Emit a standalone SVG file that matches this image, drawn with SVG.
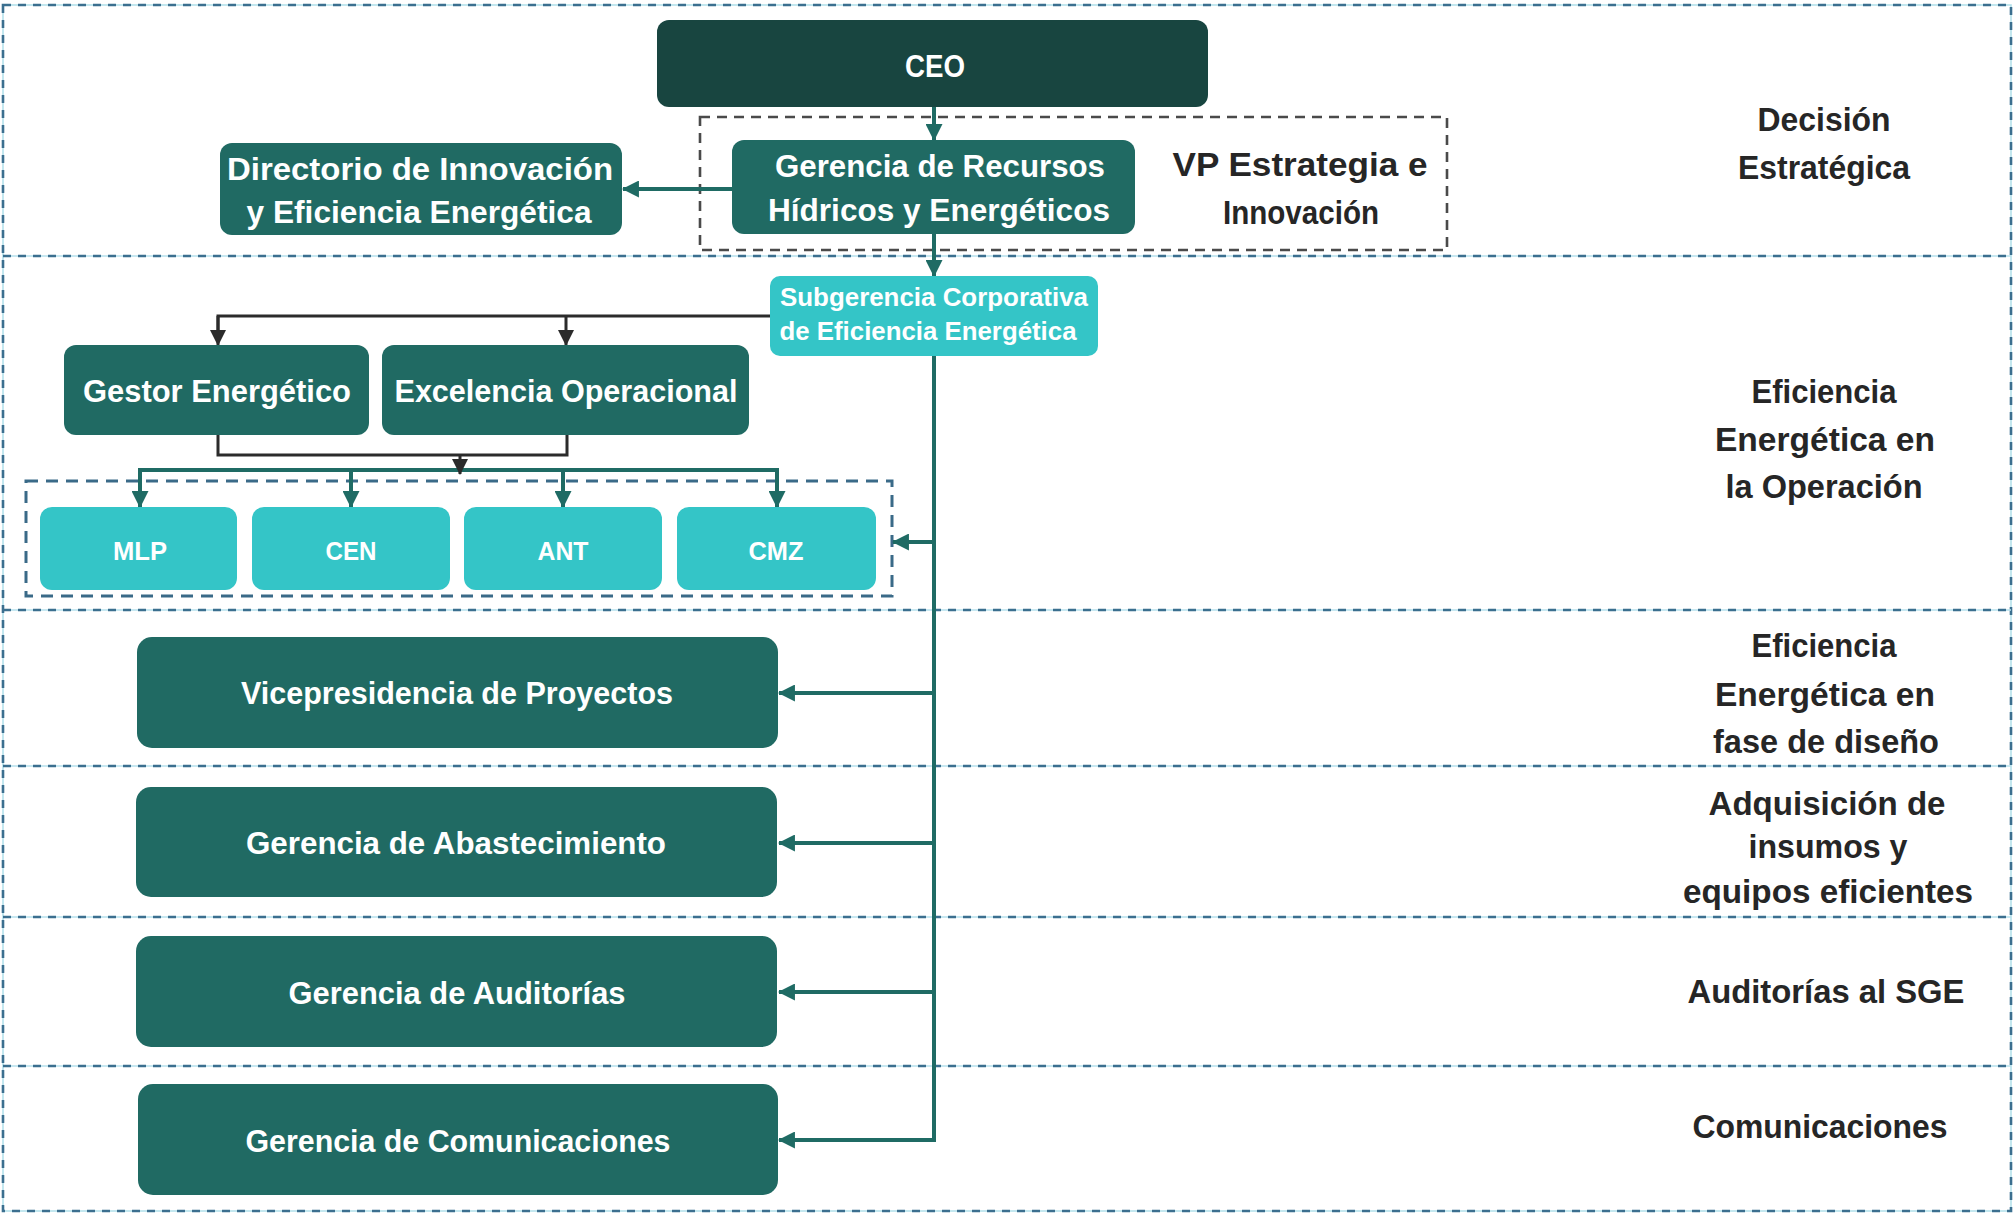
<svg xmlns="http://www.w3.org/2000/svg" width="2015" height="1215" viewBox="0 0 2015 1215">
  <defs>
    <marker id="arrowTeal" viewBox="0 0 16 16" refX="15" refY="8" markerWidth="17" markerHeight="17" markerUnits="userSpaceOnUse" orient="auto">
      <path d="M0,0 L16,8 L0,16 Z" fill="#1f6b64"/>
    </marker>
    <marker id="arrowDark" viewBox="0 0 16 16" refX="15" refY="8" markerWidth="16" markerHeight="16" markerUnits="userSpaceOnUse" orient="auto">
      <path d="M0,0 L16,8 L0,16 Z" fill="#2b2b2b"/>
    </marker>
    <style>
      .halo { fill: none; stroke: #b4e1ec; stroke-width: 1.6; }
      .band { fill: none; stroke: #3b6f8f; stroke-width: 2.6; stroke-dasharray: 8 7; }
      .vpbox { fill: none; stroke: #4a4a4a; stroke-width: 2.6; stroke-dasharray: 10 7; }
      .grpbox { fill: none; stroke: #3a6a88; stroke-width: 3; stroke-dasharray: 12 8; }
      .ceo { fill: #184540; }
      .dark { fill: #206a63; }
      .light { fill: #34c5c7; }
      .wt { fill: #ffffff; font-family: "Liberation Sans", Arial, sans-serif; font-weight: bold; text-anchor: middle; }
      .lbl { fill: #262626; font-family: "Liberation Sans", Arial, sans-serif; font-weight: bold; font-size: 33px; text-anchor: middle; }
      .tl { fill: none; stroke: #1f6b64; stroke-width: 4; }
      .dl { fill: none; stroke: #2b2b2b; stroke-width: 3; }
    </style>
  </defs>

  <rect width="2015" height="1215" fill="#ffffff"/>

  <!-- Section frame and dividers -->
  <g id="sections">
    <rect class="halo" x="3" y="5" width="2008" height="1206"/>
    <rect class="band" x="3" y="5" width="2008" height="1206"/>
    <g>
      <line class="halo" x1="3" y1="256" x2="2011" y2="256"/>
      <line class="halo" x1="3" y1="610" x2="2011" y2="610"/>
      <line class="halo" x1="3" y1="766" x2="2011" y2="766"/>
      <line class="halo" x1="3" y1="917" x2="2011" y2="917"/>
      <line class="halo" x1="3" y1="1066" x2="2011" y2="1066"/>
      <line class="band" x1="3" y1="256" x2="2011" y2="256"/>
      <line class="band" x1="3" y1="610" x2="2011" y2="610"/>
      <line class="band" x1="3" y1="766" x2="2011" y2="766"/>
      <line class="band" x1="3" y1="917" x2="2011" y2="917"/>
      <line class="band" x1="3" y1="1066" x2="2011" y2="1066"/>
    </g>
  </g>

  <!-- Section labels -->
  <g id="labels">
    <text class="lbl" x="1824" y="131" textLength="133" lengthAdjust="spacingAndGlyphs">Decisión</text>
    <text class="lbl" x="1824" y="179" textLength="172" lengthAdjust="spacingAndGlyphs">Estratégica</text>
    <text class="lbl" x="1824" y="403" textLength="145" lengthAdjust="spacingAndGlyphs">Eficiencia</text>
    <text class="lbl" x="1825" y="451" textLength="220" lengthAdjust="spacingAndGlyphs">Energética en</text>
    <text class="lbl" x="1824" y="498" textLength="197" lengthAdjust="spacingAndGlyphs">la Operación</text>
    <text class="lbl" x="1824" y="657" textLength="145" lengthAdjust="spacingAndGlyphs">Eficiencia</text>
    <text class="lbl" x="1825" y="706" textLength="220" lengthAdjust="spacingAndGlyphs">Energética en</text>
    <text class="lbl" x="1826" y="753" textLength="226" lengthAdjust="spacingAndGlyphs">fase de diseño</text>
    <text class="lbl" x="1827" y="815" textLength="237" lengthAdjust="spacingAndGlyphs">Adquisición  de</text>
    <text class="lbl" x="1828" y="858" textLength="159" lengthAdjust="spacingAndGlyphs">insumos y</text>
    <text class="lbl" x="1828" y="903" textLength="290" lengthAdjust="spacingAndGlyphs">equipos  eficientes</text>
    <text class="lbl" x="1826" y="1003" textLength="277" lengthAdjust="spacingAndGlyphs">Auditorías al SGE</text>
    <text class="lbl" x="1820" y="1138" textLength="255" lengthAdjust="spacingAndGlyphs">Comunicaciones</text>
  </g>

  <!-- Grouping frames -->
  <g id="vp-estrategia">
    <rect class="vpbox" x="700" y="117" width="747" height="133"/>
    <text class="lbl" x="1300" y="176" textLength="255" lengthAdjust="spacingAndGlyphs">VP Estrategia e</text>
    <text class="lbl" x="1301" y="224" textLength="156" lengthAdjust="spacingAndGlyphs">Innovación</text>
  </g>
  <g id="divisiones">
    <rect class="grpbox" x="26" y="481" width="866" height="115"/>
  </g>

  <!-- Connectors -->
  <g id="connectors">
    <!-- teal reporting lines -->
    <line class="tl" x1="934" y1="107" x2="934" y2="140" marker-end="url(#arrowTeal)"/>
    <line class="tl" x1="732" y1="189" x2="623" y2="189" marker-end="url(#arrowTeal)"/>
    <line class="tl" x1="934" y1="234" x2="934" y2="276" marker-end="url(#arrowTeal)"/>
    <line class="tl" x1="934" y1="356" x2="934" y2="1142"/>
    <line class="tl" x1="934" y1="542" x2="893" y2="542" marker-end="url(#arrowTeal)"/>
    <line class="tl" x1="934" y1="693" x2="779" y2="693" marker-end="url(#arrowTeal)"/>
    <line class="tl" x1="934" y1="843" x2="779" y2="843" marker-end="url(#arrowTeal)"/>
    <line class="tl" x1="934" y1="992" x2="779" y2="992" marker-end="url(#arrowTeal)"/>
    <line class="tl" x1="936" y1="1140" x2="779" y2="1140" marker-end="url(#arrowTeal)"/>
    <!-- distribution to divisions -->
    <polyline class="tl" points="140,490 140,470 779,470"/>
    <line class="tl" x1="140" y1="470" x2="140" y2="507" marker-end="url(#arrowTeal)"/>
    <line class="tl" x1="351" y1="470" x2="351" y2="507" marker-end="url(#arrowTeal)"/>
    <line class="tl" x1="563" y1="470" x2="563" y2="507" marker-end="url(#arrowTeal)"/>
    <line class="tl" x1="777" y1="468" x2="777" y2="507" marker-end="url(#arrowTeal)"/>
    <!-- dark lines from Subgerencia -->
    <polyline class="dl" points="770,316 218,316 218,330"/>
    <line class="dl" x1="218" y1="316" x2="218" y2="345" marker-end="url(#arrowDark)"/>
    <line class="dl" x1="566" y1="316" x2="566" y2="345" marker-end="url(#arrowDark)"/>
    <polyline class="dl" points="218,435 218,455 567,455 567,435"/>
    <line class="dl" x1="460" y1="455" x2="460" y2="474" marker-end="url(#arrowDark)"/>
  </g>

  <!-- Nodes -->
  <g id="ceo">
    <rect class="ceo" x="657" y="20" width="551" height="87" rx="12"/>
    <text class="wt" x="935" y="77" font-size="32" textLength="60" lengthAdjust="spacingAndGlyphs">CEO</text>
  </g>
  <g id="gerencia-recursos">
    <rect class="dark" x="732" y="140" width="403" height="94" rx="12"/>
    <text class="wt" x="940" y="177" font-size="32" textLength="330" lengthAdjust="spacingAndGlyphs">Gerencia de Recursos</text>
    <text class="wt" x="939" y="221" font-size="32" textLength="342" lengthAdjust="spacingAndGlyphs">Hídricos y Energéticos</text>
  </g>
  <g id="directorio">
    <rect class="dark" x="220" y="143" width="402" height="92" rx="12"/>
    <text class="wt" x="420" y="180" font-size="32" textLength="386" lengthAdjust="spacingAndGlyphs">Directorio de Innovación</text>
    <text class="wt" x="419" y="223" font-size="32" textLength="345" lengthAdjust="spacingAndGlyphs">y Eficiencia Energética</text>
  </g>
  <g id="subgerencia">
    <rect class="light" x="770" y="276" width="328" height="80" rx="10"/>
    <text class="wt" x="934" y="306" font-size="25" font-weight="normal" textLength="308" lengthAdjust="spacingAndGlyphs">Subgerencia  Corporativa</text>
    <text class="wt" x="928" y="340" font-size="25" font-weight="normal" textLength="297" lengthAdjust="spacingAndGlyphs">de Eficiencia  Energética</text>
  </g>
  <g id="gestor">
    <rect class="dark" x="64" y="345" width="305" height="90" rx="12"/>
    <text class="wt" x="217" y="402" font-size="32" textLength="268" lengthAdjust="spacingAndGlyphs">Gestor Energético</text>
  </g>
  <g id="excelencia">
    <rect class="dark" x="382" y="345" width="367" height="90" rx="12"/>
    <text class="wt" x="566" y="402" font-size="32" textLength="343" lengthAdjust="spacingAndGlyphs">Excelencia Operacional</text>
  </g>
  <g id="mlp">
    <rect class="light" x="40" y="507" width="197" height="83" rx="12"/>
    <text class="wt" x="140" y="560" font-size="25" textLength="54" lengthAdjust="spacingAndGlyphs">MLP</text>
  </g>
  <g id="cen">
    <rect class="light" x="252" y="507" width="198" height="83" rx="12"/>
    <text class="wt" x="351" y="560" font-size="25" textLength="51" lengthAdjust="spacingAndGlyphs">CEN</text>
  </g>
  <g id="ant">
    <rect class="light" x="464" y="507" width="198" height="83" rx="12"/>
    <text class="wt" x="563" y="560" font-size="25" textLength="51" lengthAdjust="spacingAndGlyphs">ANT</text>
  </g>
  <g id="cmz">
    <rect class="light" x="677" y="507" width="199" height="83" rx="12"/>
    <text class="wt" x="776" y="560" font-size="25" textLength="55" lengthAdjust="spacingAndGlyphs">CMZ</text>
  </g>
  <g id="vp-proyectos">
    <rect class="dark" x="137" y="637" width="641" height="111" rx="15"/>
    <text class="wt" x="457" y="704" font-size="32" textLength="432" lengthAdjust="spacingAndGlyphs">Vicepresidencia de Proyectos</text>
  </g>
  <g id="abastecimiento">
    <rect class="dark" x="136" y="787" width="641" height="110" rx="15"/>
    <text class="wt" x="456" y="854" font-size="32" textLength="420" lengthAdjust="spacingAndGlyphs">Gerencia de Abastecimiento</text>
  </g>
  <g id="auditorias">
    <rect class="dark" x="136" y="936" width="641" height="111" rx="15"/>
    <text class="wt" x="457" y="1004" font-size="32" textLength="337" lengthAdjust="spacingAndGlyphs">Gerencia de Auditorías</text>
  </g>
  <g id="comunicaciones">
    <rect class="dark" x="138" y="1084" width="640" height="111" rx="15"/>
    <text class="wt" x="458" y="1152" font-size="32" textLength="425" lengthAdjust="spacingAndGlyphs">Gerencia de Comunicaciones</text>
  </g>
</svg>
